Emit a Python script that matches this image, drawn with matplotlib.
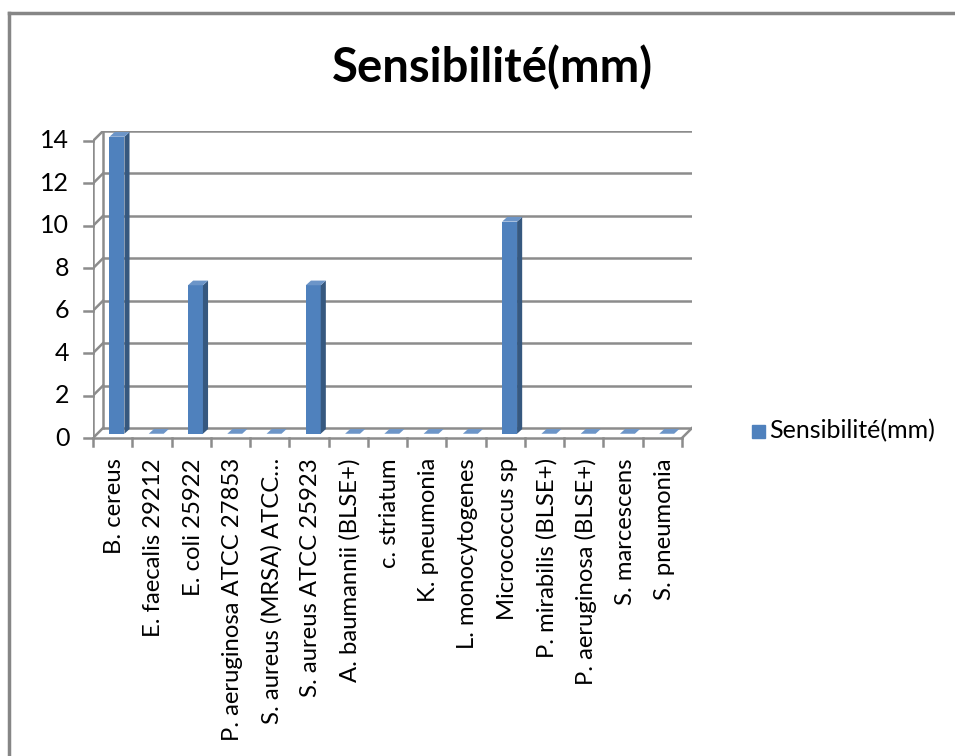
import matplotlib
matplotlib.use("Agg")
import matplotlib.pyplot as plt
import numpy as np

plt.rcParams['font.family'] = ['Lato', 'DejaVu Sans']

# data
categories = ['B. cereus', 'E. faecalis 29212', 'E. coli 25922',
              'P. aeruginosa ATCC 27853', 'S. aureus (MRSA) ATCC…',
              'S. aureus ATCC 25923', 'A. baumannii (BLSE+)', 'c. striatum',
              'K. pneumonia', 'L. monocytogenes', 'Micrococcus sp',
              'P. mirabilis (BLSE+)', 'P. aeruginosa (BLSE+)', 'S. marcescens',
              'S. pneumonia']
values = [14, 0, 7, 0, 0, 7, 0, 0, 0, 0, 10, 0, 0, 0, 0]
yticks = [0, 2, 4, 6, 8, 10, 12, 14]
series_name = 'Sensibilité(mm)'

W, H = 955, 756
fs = 18
fig = plt.figure(figsize=(W / 100, H / 100), dpi=100)

# chart border (grey frame, cut at right/bottom)
fig.add_artist(plt.Line2D([9 / W, 9 / W], [0, 1 - 13 / H], color='#868686', lw=2.5))
fig.add_artist(plt.Line2D([9 / W, 1], [1 - 13 / H, 1 - 13 / H], color='#868686', lw=2.5))

# pseudo-3d depth of the walls (in data units)
n = len(categories)
dx, dy = 0.255, 0.47
ax = fig.add_axes([93 / W, 1 - 438 / H, 599 / W, 307 / H])
ax.set_xlim(0, n + dx)
ax.set_ylim(0, 14 + dy)
ax.axis('off')

grid = '#8c8c8c'
lw = 1.8
for v in yticks:
    ax.plot([dx, n + dx], [v + dy, v + dy], color=grid, lw=lw, zorder=1, solid_capstyle='butt')
    ax.plot([0, dx], [v, v + dy], color=grid, lw=lw, zorder=1)
    ax.plot([-0.23, 0], [v, v], color=grid, lw=lw, zorder=1, clip_on=False)
    ax.text(-0.6, v, str(v), ha='right', va='center', fontsize=fs, color='black')
# walls
ax.plot([0, 0], [0, 14], color=grid, lw=lw, zorder=1)
ax.plot([dx, dx], [dy, 14 + dy], color=grid, lw=lw, zorder=1)
# floor
ax.plot([0, n], [0, 0], color=grid, lw=lw, zorder=1, clip_on=False)
ax.plot([n, n + dx], [0, dy], color=grid, lw=lw, zorder=1)
for i in range(n + 1):
    ax.plot([i, i], [0, -0.4], color=grid, lw=lw, zorder=1, clip_on=False)

# bars
front, side, top = '#4f81bd', '#36587f', '#6c95c8'
x = np.arange(n) + 0.5
ox, oy = 0.11, 0.2
w = 0.38
bdx, bdy = 0.13, 0.22
ax.bar(x + ox, values, width=w, bottom=oy, color=front, zorder=3)
for xi, v in zip(x + ox, values):
    l, r = xi - w / 2, xi + w / 2
    t = v + oy
    ax.fill([r, r + bdx, r + bdx, r], [oy, oy + bdy, t + bdy, t], color=side, zorder=3, lw=0)
    ax.fill([l, r, r + bdx, l + bdx], [t, t, t + bdy, t + bdy], color=top, zorder=4, lw=0)

for xi, lab in zip(x, categories):
    ax.text(xi + 0.05, -0.95, lab, rotation=90, ha='center', va='top', fontsize=17.2, color='black')

# title
fig.text(492 / W, 1 - 68 / H, series_name, ha='center', va='center',
         fontsize=34, fontweight='bold')

# legend
fig.patches.append(plt.Rectangle((752 / W, 1 - 438 / H), 13 / W, 13 / H,
                                 transform=fig.transFigure, color=front))
fig.text(769 / W, 1 - 431 / H, series_name, ha='left', va='center', fontsize=fs)

fig.savefig('out.png', dpi=100)
